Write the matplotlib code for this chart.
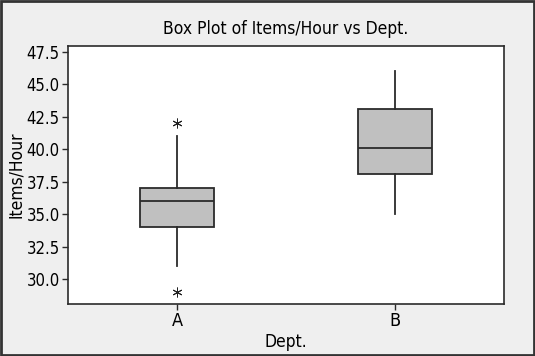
import matplotlib
matplotlib.use('Agg')
import matplotlib.pyplot as plt
from matplotlib.patches import Rectangle

# narrow look: DejaVu Sans Condensed
plt.rcParams['font.family'] = ['DejaVu Sans']
plt.rcParams['font.stretch'] = 'condensed'

# Data
depts = ['A', 'B']
whisker_low = [31, 35]
q1 = [34, 38.1]
medians = [36, 40.1]
q3 = [37, 43.1]
whisker_high = [41, 46]
outliers = [[42, 29], []]
yticks = [30.0, 32.5, 35.0, 37.5, 40.0, 42.5, 45.0, 47.5]

bg = '#efefef'
line_c = '#2b2b2b'

fig = plt.figure(figsize=(5.35, 3.56), dpi=100, facecolor=bg)
ax = fig.add_axes([68 / 535, 1 - 304 / 356, 436 / 535, 258 / 356])
ax.set_facecolor('white')

stats = []
for i, d in enumerate(depts):
    stats.append(dict(label=d, whislo=whisker_low[i], q1=q1[i], med=medians[i],
                      q3=q3[i], whishi=whisker_high[i], fliers=outliers[i]))

ax.bxp(stats, positions=[1, 2], widths=0.335, patch_artist=True, showcaps=False,
       boxprops=dict(facecolor='#c0c0c0', edgecolor=line_c, linewidth=1.3),
       medianprops=dict(color=line_c, linewidth=1.3),
       whiskerprops=dict(color=line_c, linewidth=1.3),
       flierprops=dict(marker=(6, 2, 0), markersize=7, markeredgecolor='#222222',
                       markerfacecolor='#222222', markeredgewidth=0.7, linestyle='none'))

ax.set_xlim(0.5, 2.5)
ax.set_ylim(28.07, 47.96)
ax.set_yticks(yticks)
ax.set_yticklabels([f'{t:.1f}' for t in yticks], fontsize=12)
ax.set_xticks([1, 2])
ax.set_xticklabels(depts, fontsize=13)
ax.tick_params(axis='both', direction='out', length=4, width=1, color=line_c, pad=2)

for s in ax.spines.values():
    s.set_color(line_c)
    s.set_linewidth(1.2)

ax.set_title('Box Plot of Items/Hour vs Dept.', fontsize=12.5, pad=9)
ax.set_xlabel('Dept.', fontsize=12.5, labelpad=2)
ax.set_ylabel('Items/Hour', fontsize=12.5, labelpad=1)

# outer frame
fig.patches.append(Rectangle((0.002, 0.003), 0.996, 0.994, transform=fig.transFigure,
                             fill=False, edgecolor='#333333', linewidth=2))

fig.savefig('out.png', dpi=100, facecolor=bg)
